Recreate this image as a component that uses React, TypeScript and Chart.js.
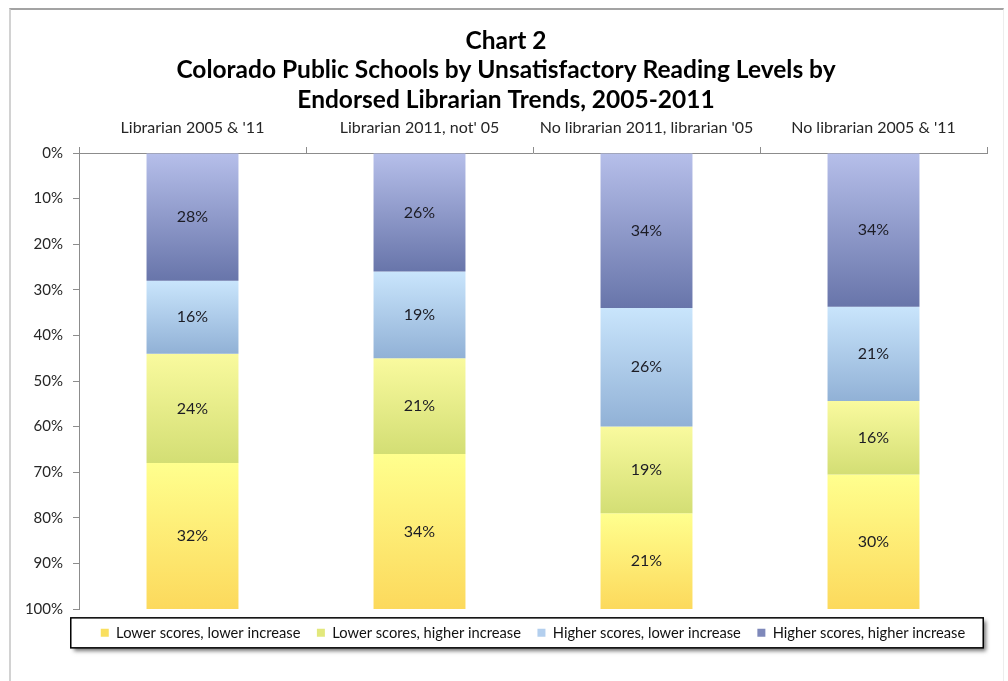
import React, { useEffect, useRef } from 'react';
import { Chart, registerables } from 'chart.js';

Chart.register(...registerables);

// ---------- data ----------
const titleLines = [
  'Chart 2',
  'Colorado Public Schools by Unsatisfactory Reading Levels by',
  'Endorsed Librarian Trends, 2005-2011',
];
const categories = [
  "Librarian 2005 & '11",
  "Librarian 2011, not' 05",
  "No librarian 2011, librarian '05",
  "No librarian 2005 & '11",
];
const seriesNames = [
  'Lower scores, lower increase',
  'Lower scores, higher increase',
  'Higher scores, lower increase',
  'Higher scores, higher increase',
];
const lowerScoresLowerIncrease = [32, 34, 21, 29.5];
const lowerScoresHigherIncrease = [24, 21, 19, 16.1];
const higherScoresLowerIncrease = [16, 19, 26, 20.7];
const higherScoresHigherIncrease = [28, 26, 34, 33.7];
const yAxisMin = 0;
const yAxisMax = 100;
const yAxisStep = 10;

// ---------- styles ----------
const FONT = 'Lato, "Open Sans", sans-serif';
const gradLL = ['#ffff8e', '#fcd95c'];
const gradLH = ['#f9fa9e', '#d3de74'];
const gradHL = ['#c9e5fc', '#91b1d6'];
const gradHH = ['#b6bfea', '#6875aa'];
const legendLL = '#f9df5f';
const legendLH = '#e2e87c';
const legendHL = '#b3cfee';
const legendHH = '#7e88ba';

// stacking order from the top of the (reversed) axis downwards
const stackSeries = [
  higherScoresHigherIncrease,
  higherScoresLowerIncrease,
  lowerScoresHigherIncrease,
  lowerScoresLowerIncrease,
];

function segmentGradient(dsIndex: number, colors: string[]) {
  return (ctx: any) => {
    const chart = ctx.chart;
    const y = chart.scales && chart.scales.y;
    if (!chart.chartArea || !y || ctx.type !== 'data') return colors[0];
    const i = ctx.dataIndex;
    let start = 0;
    for (let k = 0; k < dsIndex; k++) start += stackSeries[k][i];
    const end = start + stackSeries[dsIndex][i];
    const y0 = y.getPixelForValue(start);
    const y1 = y.getPixelForValue(end);
    if (!isFinite(y0) || !isFinite(y1) || y0 === y1) return colors[0];
    const g = chart.ctx.createLinearGradient(0, y0, 0, y1);
    g.addColorStop(0, colors[0]);
    g.addColorStop(1, colors[1]);
    return g;
  };
}

const valueLabels = {
  id: 'valueLabels',
  afterDatasetsDraw(chart: any) {
    const ctx = chart.ctx;
    ctx.save();
    ctx.font = `16px ${FONT}`;
    ctx.fillStyle = '#1c1c24';
    ctx.textAlign = 'center';
    ctx.textBaseline = 'middle';
    chart.data.datasets.forEach((ds: any, di: number) => {
      const meta = chart.getDatasetMeta(di);
      meta.data.forEach((el: any, i: number) => {
        const v = ds.data[i] as number;
        ctx.fillText(Math.round(v) + '%', el.x, (el.y + el.base) / 2);
      });
    });
    ctx.restore();
  },
};

const legendFrame = {
  id: 'legendFrame',
  beforeDraw(chart: any) {
    const lg = chart.legend;
    if (!lg || !lg.legendHitBoxes || !lg.legendHitBoxes.length) return;
    const hb = lg.legendHitBoxes;
    const first = hb[0];
    const last = hb[hb.length - 1];
    const left = first.left - 30;
    const right = last.left + last.width + 18;
    const cy = first.top + first.height / 2;
    const top = cy - 15;
    const bottom = cy + 15;
    const ctx = chart.ctx;
    ctx.save();
    ctx.shadowColor = 'rgba(0,0,0,0.55)';
    ctx.shadowBlur = 4;
    ctx.shadowOffsetX = 3;
    ctx.shadowOffsetY = 3;
    ctx.fillStyle = '#ffffff';
    ctx.fillRect(left, top, right - left, bottom - top);
    ctx.restore();
    ctx.save();
    ctx.strokeStyle = '#000000';
    ctx.lineWidth = 1.5;
    ctx.strokeRect(left, top, right - left, bottom - top);
    ctx.restore();
  },
};

export default function App() {
  const canvasRef = useRef<HTMLCanvasElement | null>(null);

  useEffect(() => {
    if (!canvasRef.current) return;
    const legendColors = [legendHH, legendHL, legendLH, legendLL];
    const chart = new Chart(canvasRef.current, {
      type: 'bar',
      data: {
        labels: categories,
        datasets: [
          { label: seriesNames[3], data: higherScoresHigherIncrease, backgroundColor: segmentGradient(0, gradHH) as any, borderWidth: 0 },
          { label: seriesNames[2], data: higherScoresLowerIncrease, backgroundColor: segmentGradient(1, gradHL) as any, borderWidth: 0 },
          { label: seriesNames[1], data: lowerScoresHigherIncrease, backgroundColor: segmentGradient(2, gradLH) as any, borderWidth: 0 },
          { label: seriesNames[0], data: lowerScoresLowerIncrease, backgroundColor: segmentGradient(3, gradLL) as any, borderWidth: 0 },
        ],
      },
      options: {
        responsive: false,
        animation: false,
        devicePixelRatio: 1,
        layout: { padding: { left: 25, right: 21, top: 0, bottom: 30.8 } },
        datasets: { bar: { barPercentage: 0.405, categoryPercentage: 1 } },
        scales: {
          x: {
            type: 'category',
            position: 'top',
            stacked: true,
            offset: true,
            afterFit: (s: any) => { s.height = 34; },
            grid: { drawOnChartArea: false, drawTicks: true, tickLength: 6, color: '#8c8c8c', offset: true },
            border: { display: true, color: '#8c8c8c', width: 1 },
            ticks: { padding: 9.5, color: '#262626', font: { family: FONT, size: 16 }, maxRotation: 0, autoSkip: false },
          },
          y: {
            type: 'linear',
            stacked: true,
            reverse: true,
            min: yAxisMin,
            max: yAxisMax,
            afterFit: (s: any) => { s.width = 54; },
            grid: { drawOnChartArea: false, drawTicks: true, tickLength: 6, color: '#8c8c8c' },
            border: { display: true, color: '#8c8c8c', width: 1 },
            ticks: {
              stepSize: yAxisStep,
              padding: 10,
              color: '#262626',
              font: { family: FONT, size: 15 },
              callback: (v: any) => v + '%',
            },
          },
        },
        plugins: {
          title: {
            display: true,
            text: titleLines,
            color: '#000000',
            font: { family: FONT, size: 24.5, weight: 'bold', lineHeight: 1.2 },
            padding: { top: 26.3, bottom: 4.5 },
          },
          legend: {
            display: true,
            position: 'bottom',
            fullSize: false,
            labels: {
              boxWidth: 8,
              boxHeight: 8,
              padding: 16.5,
              color: '#111111',
              font: { family: FONT, size: 14.7 },
              sort: (a: any, b: any) => b.datasetIndex - a.datasetIndex,
              generateLabels: (c: any) =>
                (Chart.defaults.plugins.legend.labels.generateLabels as any)(c).map((l: any) => ({
                  ...l,
                  fillStyle: legendColors[l.datasetIndex],
                  strokeStyle: 'rgba(0,0,0,0)',
                  lineWidth: 0,
                })),
            },
          },
          tooltip: { enabled: false },
        },
      },
      plugins: [valueLabels, legendFrame],
    } as any);
    return () => chart.destroy();
  }, []);

  return (
    <div style={{ position: 'fixed', left: 0, top: 0, width: 1008, height: 681, background: '#ffffff', overflow: 'hidden' }}>
      <canvas ref={canvasRef} width={1008} height={681} style={{ position: 'absolute', left: 0, top: 0, width: 1008, height: 681 }} />
      <div
        style={{
          position: 'absolute',
          left: 9,
          top: 8,
          width: 995,
          height: 720,
          borderTop: '2px solid #a3a3a3',
          borderLeft: '2px solid #d2d2d2',
          borderRight: '1px solid #ededed',
          boxSizing: 'border-box',
          pointerEvents: 'none',
        }}
      />
    </div>
  );
}
